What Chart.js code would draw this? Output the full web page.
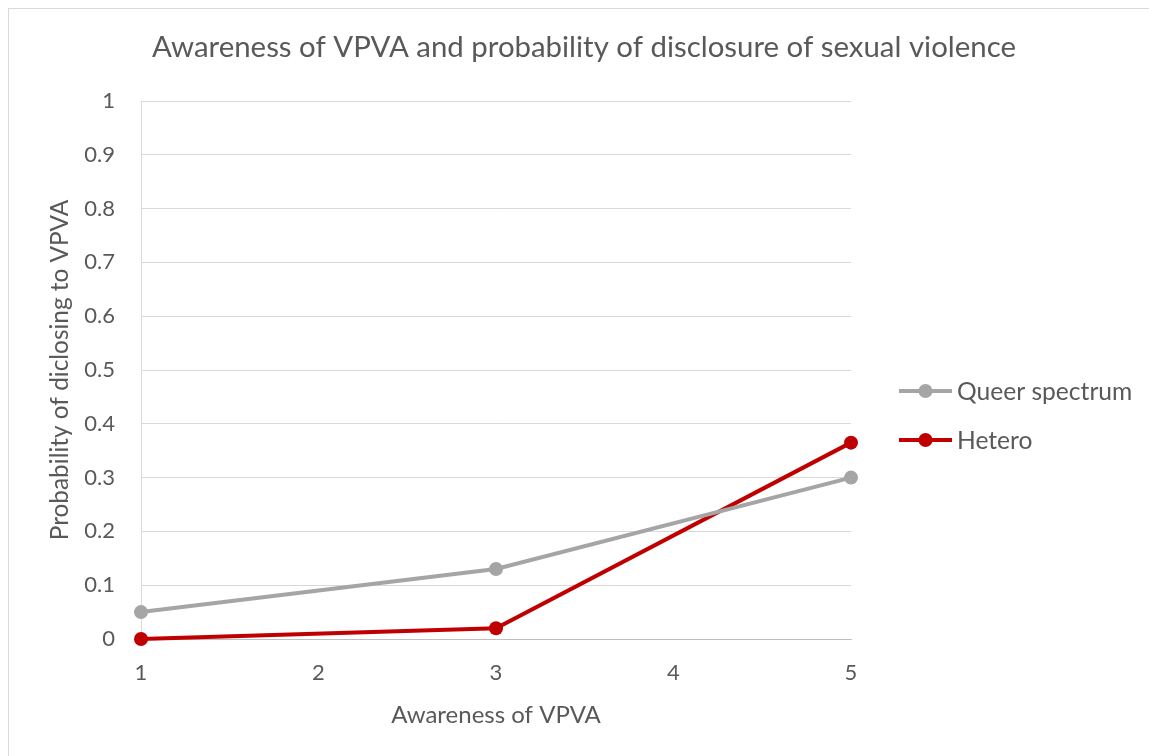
<!DOCTYPE html>
<html>
<head>
<meta charset="utf-8">
<script src="https://cdn.jsdelivr.net/npm/chart.js@4/dist/chart.umd.min.js"></script>
<style>
  html, body { margin: 0; padding: 0; background: #fff; }
  #wrap { position: relative; width: 1149px; height: 756px; }
</style>
</head>
<body>
<div id="wrap"><canvas id="c" width="1149" height="756"></canvas></div>
<script>
const chartTitle = 'Awareness of VPVA and probability of disclosure of sexual violence';
const xTitle = 'Awareness of VPVA';
const yTitle = 'Probability of diclosing to VPVA';
const awareness = [1, 3, 5];
const queerValues = [0.05, 0.13, 0.30];
const heteroValues = [0, 0.02, 0.365];
const seriesNames = ['Queer spectrum', 'Hetero'];
const seriesColors = ['#A5A5A5', '#C00000'];

const FONT = 'Lato, "Open Sans", sans-serif';
const TEXT = '#595959';

const toPoints = (xs, ys) => xs.map((x, i) => ({x: x, y: ys[i]}));

const decor = {
  id: 'decor',
  beforeDraw(chart) {
    const ctx = chart.ctx;
    ctx.save();
    ctx.strokeStyle = '#d9d9d9';
    ctx.lineWidth = 1;
    ctx.strokeRect(8.5, 8.5, 1160, 780);
    ctx.restore();
  },
  afterDraw(chart) {
    const ctx = chart.ctx;
    ctx.save();
    ctx.fillStyle = TEXT;
    ctx.font = '29.4px ' + FONT;
    ctx.textAlign = 'center';
    ctx.textBaseline = 'middle';
    ctx.fillText(chartTitle, 584, 48);
    // legend
    const ys = [391, 440];
    chart.data.datasets.forEach((ds, i) => {
      const y = ys[i];
      ctx.strokeStyle = ds.borderColor;
      ctx.lineWidth = ds.borderWidth;
      ctx.beginPath();
      ctx.moveTo(899, y);
      ctx.lineTo(952, y);
      ctx.stroke();
      ctx.fillStyle = ds.pointBackgroundColor;
      ctx.beginPath();
      ctx.arc(925.5, y, ds.pointRadius, 0, Math.PI * 2);
      ctx.fill();
      ctx.fillStyle = TEXT;
      ctx.font = '24.6px ' + FONT;
      ctx.textAlign = 'left';
      ctx.textBaseline = 'middle';
      ctx.fillText(ds.label, 957, y + 1);
    });
    ctx.restore();
  }
};

new Chart(document.getElementById('c'), {
  type: 'line',
  data: {
    datasets: [
      {
        label: seriesNames[0],
        data: toPoints(awareness, queerValues),
        borderColor: seriesColors[0],
        backgroundColor: seriesColors[0],
        pointBackgroundColor: seriesColors[0],
        pointBorderWidth: 0,
        borderWidth: 4,
        pointRadius: 7,
        tension: 0,
        clip: false
      },
      {
        label: seriesNames[1],
        data: toPoints(awareness, heteroValues),
        borderColor: seriesColors[1],
        backgroundColor: seriesColors[1],
        pointBackgroundColor: seriesColors[1],
        pointBorderWidth: 0,
        borderWidth: 4,
        pointRadius: 7,
        tension: 0,
        clip: false
      }
    ]
  },
  options: {
    responsive: false,
    animation: false,
    devicePixelRatio: 1,
    layout: { padding: { left: 0, right: 298, top: 101, bottom: 0 } },
    plugins: {
      legend: { display: false },
      title: { display: false },
      tooltip: { enabled: false }
    },
    scales: {
      x: {
        type: 'linear',
        min: 1, max: 5,
        afterFit(scale) { scale.height = 117; },
        ticks: { stepSize: 1, color: TEXT, font: { family: FONT, size: 22 }, padding: 21 },
        grid: { display: false, drawTicks: false },
        border: { display: true, color: '#bfbfbf', width: 1 },
        title: { display: true, text: xTitle, color: TEXT, font: { family: FONT, size: 24 }, padding: { top: 0, bottom: 26 } }
      },
      y: {
        min: 0, max: 1,
        afterFit(scale) { scale.width = 141; },
        ticks: { stepSize: 0.1, color: TEXT, font: { family: FONT, size: 22 }, padding: 26,
          callback: (v) => Math.round(v * 10) / 10 + '' },
        grid: { color: '#d9d9d9', lineWidth: 1, drawTicks: false },
        border: { display: true, color: '#d9d9d9', width: 1 },
        title: { display: true, text: yTitle, color: TEXT, font: { family: FONT, size: 24.4 }, padding: { top: 46, bottom: 0 } }
      }
    }
  },
  plugins: [decor]
});
</script>
</body>
</html>
